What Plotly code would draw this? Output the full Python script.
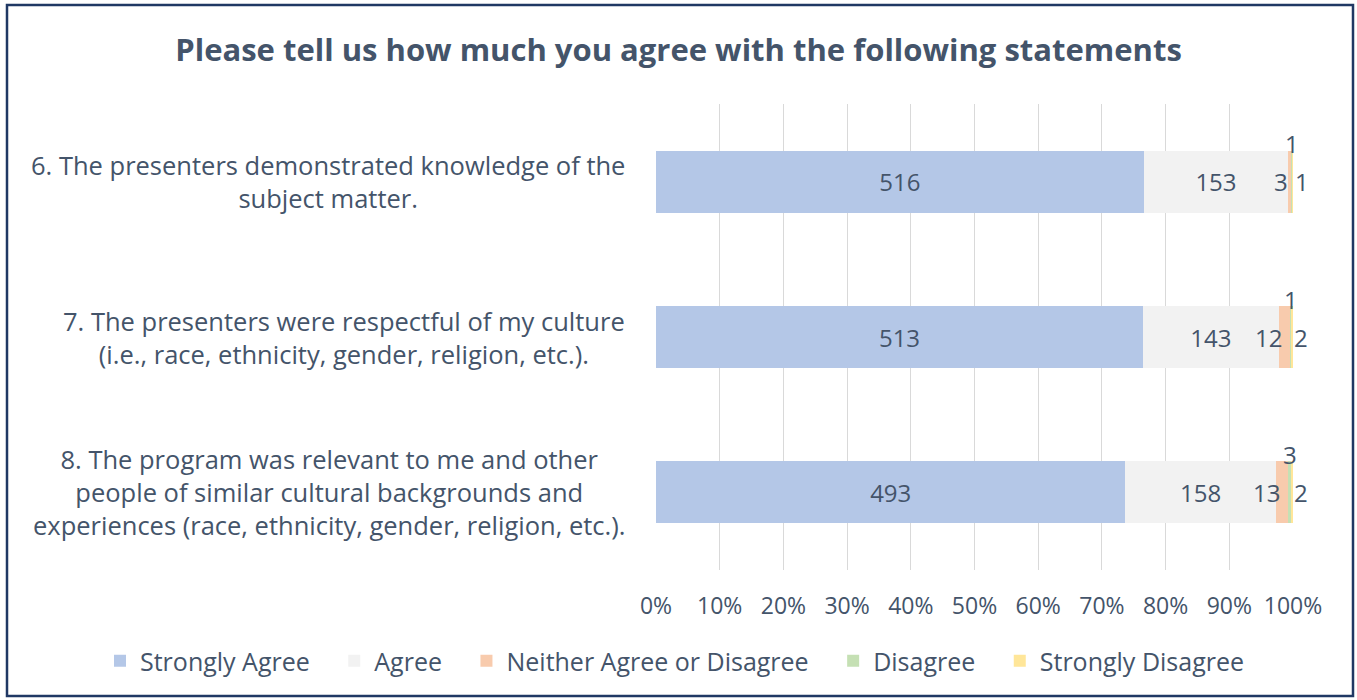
import plotly.graph_objects as go

questions = [
    "6. The presenters demonstrated knowledge of the<br>subject matter.",
    "7. The presenters were respectful of my culture<br>(i.e., race, ethnicity, gender, religion, etc.).",
    "8. The program was relevant to me and other<br>people of similar cultural backgrounds and<br>experiences (race, ethnicity, gender, religion, etc.).",
]
keys = ["Q6", "Q7", "Q8"]
series_names = ["Strongly Agree", "Agree", "Neither Agree or Disagree", "Disagree", "Strongly Disagree"]
strongly_agree = [516, 513, 493]
agree = [153, 143, 158]
neither = [3, 12, 13]
disagree = [1, 1, 3]
strongly_disagree = [1, 2, 2]
colors = ["#B4C7E7", "#F2F2F2", "#F8CBAD", "#C5E0B4", "#FFE699"]

TXT = "#44546A"
FONT = "Open Sans"
FS = 24
PAD = "\u00a0\u00a0\u00a0"  # extra legend spacing

all_series = [strongly_agree, agree, neither, disagree, strongly_disagree]
totals = [sum(s[i] for s in all_series) for i in range(3)]

fig = go.Figure()
for k, (name, vals, col) in enumerate(zip(series_names, all_series, colors)):
    show_text = k < 2
    fig.add_trace(go.Bar(
        y=keys, x=vals, name=name + (PAD if k < len(series_names) - 1 else ""), orientation="h",
        marker=dict(color=col, line=dict(width=0)),
        text=[str(v) for v in vals] if show_text else None,
        textposition="inside" if show_text else "none",
        insidetextanchor="middle",
        textfont=dict(family=FONT, size=FS, color=TXT),
        width=0.4,
    ))

annotations = []
# small segment labels
for i, key in enumerate(keys):
    t = totals[i]
    c0 = (strongly_agree[i] + agree[i]) / t
    c1 = c0 + neither[i] / t
    c2 = c1 + disagree[i] / t
    c3 = c2 + strongly_disagree[i] / t
    annotations.append(dict(x=(c0 + c1) / 2, y=key, xref="x", yref="y", text=str(neither[i]),
                            showarrow=False, xanchor="right", font=dict(family=FONT, size=FS, color=TXT)))
    annotations.append(dict(x=(c1 + c2) / 2, y=key, xref="x", yref="y", text=str(disagree[i]),
                            showarrow=False, xanchor="center", yshift=38, font=dict(family=FONT, size=FS, color=TXT)))
    annotations.append(dict(x=(c2 + c3) / 2, y=key, xref="x", yref="y", text=str(strongly_disagree[i]),
                            showarrow=False, xanchor="left", font=dict(family=FONT, size=FS, color=TXT)))

# category labels (centered lines)
for q, key in zip(questions, keys):
    annotations.append(dict(x=-0.045, y=key, xref="paper", yref="y", text=q, showarrow=False,
                            xanchor="right", align="center", font=dict(family=FONT, size=25.5, color=TXT)))

fig.update_layout(
    barmode="stack",
    barnorm="fraction",
    width=1357, height=700,
    margin=dict(l=656, r=64, t=104, b=130, autoexpand=False),
    paper_bgcolor="white", plot_bgcolor="white",
    title=dict(text="<b>Please tell us how much you agree with the following statements</b>",
               x=0.5, xref="container", xanchor="center", y=0.928, yref="container", yanchor="middle",
               font=dict(family=FONT, size=31, color=TXT)),
    xaxis=dict(range=[0, 1], dtick=0.1, tickformat=".0%", showgrid=True, gridcolor="#D9D9D9",
               gridwidth=1, zeroline=False, showline=False, ticks="", ticklabelstandoff=20,
               tickfont=dict(family=FONT, size=23, color=TXT)),
    yaxis=dict(categoryorder="array", categoryarray=keys, autorange="reversed",
               showticklabels=False, showgrid=False, zeroline=False, showline=False),
    legend=dict(orientation="h", x=(100 - 656) / 637, xref="paper", xanchor="left",
                y=(570 - 661) / 466, yref="paper", yanchor="middle",
                font=dict(family=FONT, size=25, color=TXT), traceorder="normal", itemwidth=30),
    annotations=annotations,
    showlegend=True,
    shapes=[dict(type="rect", xref="paper", yref="paper",
                 x0=(7 - 656) / 637, x1=(1353 - 656) / 637,
                 y0=(570 - 696) / 466, y1=(570 - 5) / 466,
                 line=dict(color="#203864", width=2.5), fillcolor="rgba(0,0,0,0)", layer="above")],
)
fig.write_html("out.html", post_script="document.body.style.margin='0';",
               config={"displayModeBar": False})
